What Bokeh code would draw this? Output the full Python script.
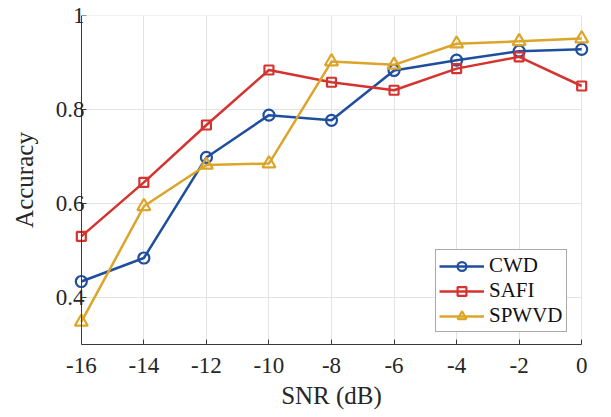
from bokeh.plotting import figure
from bokeh.models import Range1d, Legend, LegendItem, FixedTicker, LinearAxis
from bokeh.embed import file_html
from bokeh.resources import INLINE

snr = [-16, -14, -12, -10, -8, -6, -4, -2, 0]
cwd = [0.434, 0.484, 0.698, 0.788, 0.777, 0.883, 0.905, 0.924, 0.928]
safi = [0.530, 0.645, 0.767, 0.884, 0.858, 0.841, 0.887, 0.912, 0.850]
spwvd = [0.348, 0.594, 0.682, 0.685, 0.902, 0.895, 0.940, 0.945, 0.951]
x_ticks = [-16, -14, -12, -10, -8, -6, -4, -2, 0]
x_labels = ["-16", "-14", "-12", "-10", "-8", "-6", "-4", "-2", "0"]
y_ticks = [0.4, 0.6, 0.8, 1.0]
y_labels = ["0.4", "0.6", "0.8", "1"]

C_BLUE = "#1F4E9E"
C_RED = "#D5332F"
C_YEL = "#DBA52A"
FONT = "Liberation Serif"
AXC = "#3a3a3a"
TXC = "#262626"
PAD = 0.25

xmin, xmax = x_ticks[0], x_ticks[-1]

p = figure(width=611, height=417, output_backend="svg", toolbar_location=None,
           x_range=Range1d(xmin - PAD, xmax + PAD), y_range=Range1d(0.3, 1.0),
           min_border_left=73, min_border_right=22, min_border_top=15, min_border_bottom=73)
p.outline_line_color = None
p.background_fill_color = "white"

# x axis
xa = p.xaxis[0]
xa.axis_line_color = AXC
xa.major_tick_line_color = AXC
xa.major_tick_in = 5
xa.major_tick_out = 0
xa.minor_tick_line_color = None
xa.major_label_text_font = FONT
xa.major_label_text_font_size = "23px"
xa.major_label_text_color = TXC
xa.axis_label_text_font = FONT
xa.axis_label_text_font_size = "25px"
xa.axis_label_text_font_style = "normal"
xa.axis_label_text_color = TXC
xa.ticker = FixedTicker(ticks=x_ticks)
xa.major_label_overrides = dict(zip(x_ticks, x_labels))
xa.bounds = (xmin, xmax)
xa.axis_label = "SNR (dB)"
xa.major_label_standoff = 13
xa.axis_label_standoff = 6

# y axis line + ticks placed at x = xmin
ya = p.yaxis[0]
ya.fixed_location = xmin
ya.ticker = FixedTicker(ticks=y_ticks)
ya.axis_line_color = AXC
ya.major_tick_line_color = AXC
ya.major_tick_in = 5
ya.major_tick_out = 0
ya.minor_tick_line_color = None
ya.major_label_text_font_size = "0px"
ya.major_label_text_color = None
ya.major_label_standoff = 0

# y labels axis
yl = LinearAxis(ticker=FixedTicker(ticks=y_ticks), axis_label="Accuracy")
yl.axis_line_color = None
yl.major_tick_line_color = None
yl.minor_tick_line_color = None
yl.major_tick_in = 0
yl.major_tick_out = 0
yl.major_label_overrides = dict(zip(y_ticks, y_labels))
yl.major_label_text_font = FONT
yl.major_label_text_font_size = "23px"
yl.major_label_text_color = TXC
yl.major_label_standoff = -11
yl.axis_label_text_font = FONT
yl.axis_label_text_font_size = "25px"
yl.axis_label_text_font_style = "normal"
yl.axis_label_text_color = TXC
yl.axis_label_standoff = 15
p.add_layout(yl, "left")

p.xgrid.grid_line_color = "#e3e3e3"
p.ygrid.grid_line_color = None
p.segment(x0=[xmin] * len(y_ticks), x1=[xmax] * len(y_ticks), y0=y_ticks, y1=y_ticks,
          line_color="#e3e3e3", line_width=1)

r1 = p.line(snr, cwd, color=C_BLUE, line_width=2.5)
m1 = p.scatter(snr, cwd, marker="circle", size=11, line_color=C_BLUE, line_width=2.2, fill_color=None)
r2 = p.line(snr, safi, color=C_RED, line_width=2.5)
m2 = p.scatter(snr, safi, marker="square", size=9, line_color=C_RED, line_width=2.2, fill_color=None)
r3 = p.line(snr, spwvd, color=C_YEL, line_width=2.5)
m3 = p.scatter(snr, spwvd, marker="triangle", size=13, line_color=C_YEL, line_width=2.2, fill_color=None)

legend = Legend(items=[LegendItem(label="CWD", renderers=[r1, m1]),
                       LegendItem(label="SAFI", renderers=[r2, m2]),
                       LegendItem(label="SPWVD", renderers=[r3, m3])],
                location=(362, 12))
legend.margin = 0
legend.padding = 3
legend.spacing = 0
legend.label_height = 22
legend.glyph_height = 22
legend.glyph_width = 45
legend.label_standoff = 5
legend.label_text_font = FONT
legend.label_text_font_size = "21px"
legend.label_text_color = "#111111"
legend.border_line_color = "#555555"
legend.border_line_width = 1
legend.background_fill_color = "white"
legend.background_fill_alpha = 1
p.add_layout(legend, "center")

open("out.html", "w").write(file_html(p, INLINE))
